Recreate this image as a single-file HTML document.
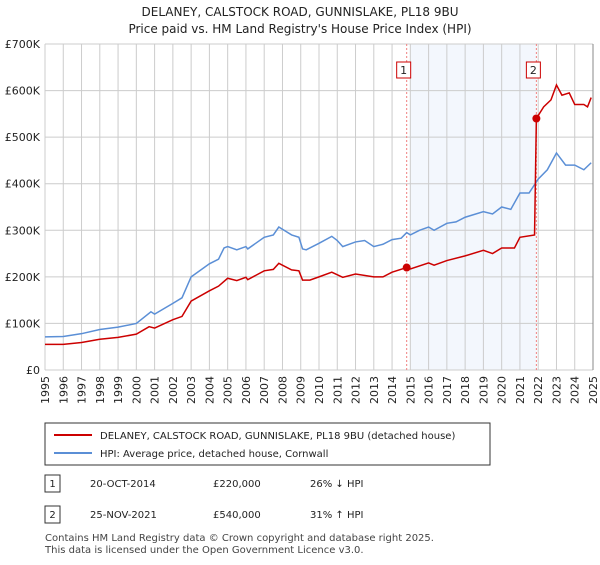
<!DOCTYPE html>
<html><head><meta charset="utf-8"><style>
body{margin:0;background:#fff;font-family:"Liberation Sans","DejaVu Sans",sans-serif;}
svg text{font-family:"DejaVu Sans","Liberation Sans",sans-serif;}
</style></head><body>
<svg id="c" width="600" height="560" xmlns="http://www.w3.org/2000/svg">
<text x="300" y="16" text-anchor="middle" font-size="12" fill="#222">DELANEY, CALSTOCK ROAD, GUNNISLAKE, PL18 9BU</text>
<text x="300" y="33" text-anchor="middle" font-size="12" fill="#222">Price paid vs. HM Land Registry's House Price Index (HPI)</text>
<g id="grid"></g><g id="series"></g>
<g>
<rect x="45" y="423" width="445" height="42" fill="#fff" stroke="#333"/>
<line x1="54" y1="435" x2="92" y2="435" stroke="#cc0000" stroke-width="2"/>
<text x="100" y="439" font-size="10" fill="#222">DELANEY, CALSTOCK ROAD, GUNNISLAKE, PL18 9BU (detached house)</text>
<line x1="54" y1="453" x2="92" y2="453" stroke="#5b8fd6" stroke-width="2"/>
<text x="100" y="457" font-size="10" fill="#222">HPI: Average price, detached house, Cornwall</text>
</g>
<g font-size="10" fill="#222">
<rect x="45" y="475" width="15" height="17" fill="#fff" stroke="#333"/><text x="52.5" y="487" text-anchor="middle">1</text>
<text x="90" y="487">20-OCT-2014</text><text x="213" y="487">£220,000</text><text x="310" y="487">26% ↓ HPI</text>
<rect x="45" y="506" width="15" height="17" fill="#fff" stroke="#333"/><text x="52.5" y="518" text-anchor="middle">2</text>
<text x="90" y="518">25-NOV-2021</text><text x="213" y="518">£540,000</text><text x="310" y="518">31% ↑ HPI</text>
</g>
<text x="45" y="541" font-size="10" fill="#444">Contains HM Land Registry data © Crown copyright and database right 2025.</text>
<text x="45" y="553" font-size="10" fill="#444">This data is licensed under the Open Government Licence v3.0.</text>
</svg>
<script>
const yearTicks=[1995,1996,1997,1998,1999,2000,2001,2002,2003,2004,2005,2006,2007,2008,2009,2010,2011,2012,2013,2014,2015,2016,2017,2018,2019,2020,2021,2022,2023,2024,2025];
const valueTicks=[0,100000,200000,300000,400000,500000,600000,700000];
const valueLabels=["£0","£100K","£200K","£300K","£400K","£500K","£600K","£700K"];
const hpiT=[1995,1996,1997,1998,1999,2000,2000.8,2001,2002,2002.5,2003,2004,2004.5,2004.8,2005,2005.5,2006,2006.1,2007,2007.5,2007.8,2008.5,2008.9,2009.1,2009.3,2010,2010.7,2011,2011.3,2012,2012.5,2013,2013.5,2014,2014.5,2014.8,2015,2015.5,2016,2016.3,2017,2017.5,2018,2019,2019.5,2020,2020.5,2021,2021.5,2022,2022.5,2023,2023.5,2024,2024.5,2024.9];
const hpiV=[71,72,78,87,92,100,125,120,143,155,200,228,238,262,265,258,265,260,285,290,307,290,285,260,258,272,287,278,265,275,278,265,270,280,283,295,290,300,307,300,315,318,328,340,335,350,345,380,380,410,430,466,440,440,430,445];
const ppT=[1995,1996,1997,1998,1999,2000,2000.7,2001,2002,2002.5,2003,2004,2004.5,2005,2005.5,2006,2006.1,2007,2007.5,2007.8,2008.5,2008.9,2009.1,2009.5,2010,2010.7,2011.3,2012,2013,2013.5,2014,2014.8,2015,2016,2016.3,2017,2018,2019,2019.5,2020,2020.7,2021,2021.8,2021.9,2022.3,2022.7,2023,2023.3,2023.7,2024,2024.5,2024.7,2024.9];
const ppV=[55,55,59,66,70,77,93,90,108,115,148,170,180,197,192,199,194,213,216,229,215,213,193,193,200,210,199,206,200,200,210,220,217,230,225,235,245,257,250,262,262,285,290,540,565,580,612,590,595,570,570,565,585];
const saleT=[2014.8,2021.9];
const saleV=[220,540];
const saleLabels=["1","2"];
const X=t=>45+(t-1995)*(548/30);
const Y=v=>370-v*(326/700000);
const NS="http://www.w3.org/2000/svg";
const g=document.getElementById('grid'),s=document.getElementById('series');
function mk(p,tag,a){const e=document.createElementNS(NS,tag);for(const k in a)e.setAttribute(k,a[k]);p.appendChild(e);return e;}
let sh=mk(g,'rect',{x:411,y:44,width:X(saleT[1])-411,height:326,fill:'#eef3fc',opacity:0.7});


yearTicks.forEach(y=>{let l=mk(g,'line',{x1:X(y),x2:X(y),y1:44,y2:370,stroke:'#ccc'});


let t=mk(g,'text',{x:0,y:0,'font-size':11,fill:'#222','text-anchor':'end',transform:`translate(${X(y)+4},376) rotate(-90)`});t.textContent=y;

});
valueTicks.forEach((v,i)=>{let l=mk(g,'line',{x1:45,x2:593,y1:Y(v),y2:Y(v),stroke:'#ccc'});


let t=mk(g,'text',{x:40,y:Y(v)+4,'font-size':11,fill:'#222','text-anchor':'end'});t.textContent=valueLabels[i];

});
saleT.forEach((t,i)=>{let l=mk(g,'line',{x1:X(t),x2:X(t),y1:44,y2:370,stroke:'#f08080','stroke-dasharray':'2,2'});


let r=mk(g,'rect',{x:X(t)-10,y:62,width:14,height:16,fill:'#fff',stroke:'#cc0000'});


let tx=mk(g,'text',{x:X(t)-3,y:74,'font-size':11,fill:'#222','text-anchor':'middle'});tx.textContent=saleLabels[i];

});
let hp=mk(s,'polyline',{points:hpiT.map((t,i)=>X(t)+','+Y(hpiV[i]*1000)).join(' '),fill:'none',stroke:'#5b8fd6','stroke-width':1.5});


let pp=mk(s,'polyline',{points:ppT.map((t,i)=>X(t)+','+Y(ppV[i]*1000)).join(' '),fill:'none',stroke:'#cc0000','stroke-width':1.5});


saleT.forEach((t,i)=>{let c=mk(s,'circle',{cx:X(t),cy:Y(saleV[i]*1000),r:4,fill:'#cc0000'});

});
let ax=mk(s,'line',{x1:593,x2:593,y1:44,y2:370,stroke:'#888'});


</script>
</body></html>
